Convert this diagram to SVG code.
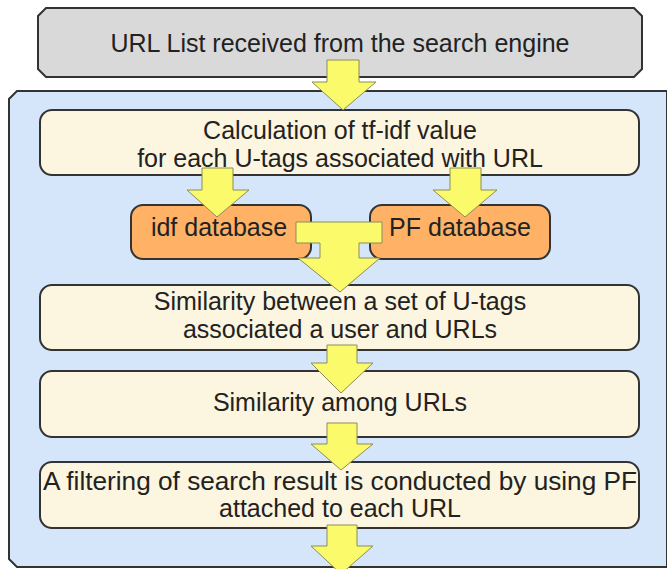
<svg xmlns="http://www.w3.org/2000/svg" width="667" height="569" viewBox="0 0 667 569">
<style>
text{font-family:"Liberation Sans",Arial,sans-serif;font-size:25px;fill:#222;text-anchor:middle}
.box{stroke:#333;stroke-width:2}
.cream{fill:#FCF5E0}
.orange{fill:#FFB266}
.arrow{fill:#FAFA6A;stroke:#8C8C5A;stroke-width:1}
</style>
<rect width="667" height="569" fill="#fff"/>
<g id="container">
<path class="box" d="M17,91 L667,91 L667,567 L17,567 L9,559 L9,99 Z" fill="#D6E6FA"/>
</g>
<g id="url-list">
<path class="box" d="M46,8 L634,8 L642,16 L642,69 L634,77 L46,77 L38,69 L38,16 Z" fill="#D9D9D9"/>
<text x="340" y="52">URL List received from the search engine</text>
</g>
<g id="tfidf">
<rect class="box cream" x="40" y="110" width="599" height="65" rx="12"/>
<text x="340" y="139">Calculation of tf-idf value</text>
<text x="340" y="167">for each U-tags associated with URL</text>
</g>
<g id="idf-db">
<rect class="box orange" x="131" y="205" width="180" height="54" rx="12"/>
<text x="219" y="236">idf database</text>
</g>
<g id="pf-db">
<rect class="box orange" x="370" y="205" width="180" height="54" rx="12"/>
<text x="460" y="236">PF database</text>
</g>
<g id="similarity-user">
<rect class="box cream" x="40" y="285" width="599" height="65" rx="12"/>
<text x="340" y="310">Similarity between a set of U-tags</text>
<text x="340" y="338">associated a user and URLs</text>
</g>
<g id="similarity-urls">
<rect class="box cream" x="40" y="371" width="599" height="66" rx="12"/>
<text x="340" y="411">Similarity among URLs</text>
</g>
<g id="filtering">
<rect class="box cream" x="40" y="462" width="599" height="66" rx="12"/>
<text x="340" y="490" textLength="594" lengthAdjust="spacingAndGlyphs">A filtering of search result is conducted by using PF</text>
<text x="340" y="517">attached to each URL</text>
</g>
<g id="connectors">
<polygon class="arrow" points="327,60 359,60 359,82 376,82 343,110 312,82 327,82"/>
<polygon class="arrow" points="202,168 233,168 233,190 249,190 217,217 187,190 202,190"/>
<polygon class="arrow" points="450,168 481,168 481,190 497,190 465,217 433,190 450,190"/>
<polygon class="arrow" points="296,222 382,222 382,243 359,243 359,258 380,258 340,292 298,258 320,258 320,243 296,243"/>
<polygon class="arrow" points="327,345 357,345 357,363 373,363 341,393 311,363 327,363"/>
<polygon class="arrow" points="327,423 357,423 357,444 373,444 341,470 311,444 327,444"/>
<polygon class="arrow" points="327,525 357,525 357,546 373,546 341,574 311,546 327,546"/>
</g>
</svg>
